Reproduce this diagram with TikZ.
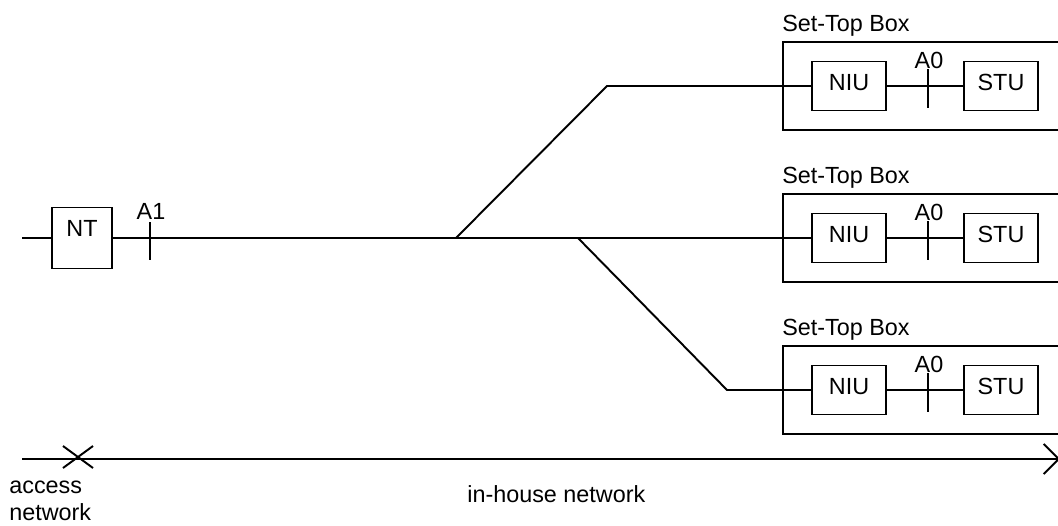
\documentclass[tikz,border=0pt]{standalone}
\usepackage{fontspec}
\setmainfont{Liberation Sans}
\usetikzlibrary{arrows.meta,calc}
\tikzstyle{line} = [draw, line width=1.1pt]
\tikzstyle{block} = [draw, line width=1.1pt, rectangle, text centered, minimum width=1.48cm, minimum height=0.98cm, text height=9.5pt, text depth=4.5pt, inner sep=0pt]
\tikzstyle{stbox} = [draw, line width=1.1pt, rectangle, minimum width=6cm, minimum height=1.76cm, anchor=west]
\tikzstyle{tag} = [inner sep=0pt, anchor=base]

\begin{document}
\begin{tikzpicture}[x=0.02cm, y=-0.02cm, font=\fontsize{13.3}{15.3}\selectfont]
        \clip (0,0) rectangle (1058,525);
        % access side
        \coordinate (in) at (22,238);
        \node[block, text depth=11pt, minimum width=1.2cm, minimum height=1.22cm] (nt) at (82,238) {NT};
        \coordinate (a1top) at (150,222);
        \coordinate (a1bot) at (150,260);
        \node[tag] (a1) at (151,219) {A1};
        % set-top boxes
        \foreach \i/\y in {1/86,2/238,3/390} {
            \node[stbox] (stb\i) at (782,\y) {};
            \node[tag, anchor=base west] (stblabel\i) at (782,\y-55) {Set-Top Box};
            \node[block] (niu\i) at (849,\y) {NIU};
            \node[block] (stu\i) at (1001,\y) {STU};
            \coordinate (a0top\i) at (928,\y-17);
            \coordinate (a0bot\i) at (928,\y+22);
            \node[tag] (a0\i) at (929,\y-18) {A0};
            \path[line] (niu\i) -- (stu\i);
            \path[line] (a0top\i) -- (a0bot\i);
        }
        % in-house wiring
        \coordinate (fork1) at (456,238);
        \coordinate (bend1) at (607,86);
        \coordinate (fork3) at (578,238);
        \coordinate (bend3) at (727,390);
        \path[line] (in) -- (nt);
        \path[line] (a1top) -- (a1bot);
        \path[line] (nt) -- (niu2);
        \path[line] (fork1) -- (bend1) -- (niu1);
        \path[line] (fork3) -- (bend3) -- (niu3);
        % network boundary
        \coordinate (netL) at (22,459);
        \coordinate (netR) at (1060,459);
        \coordinate (cut) at (78,457);
        \path[line, -{Straight Barb[length=0.3cm,width=0.6cm]}] (netL) -- (netR);
        \path[line] ($(cut)+(-15,-11)$) -- ($(cut)+(15,11)$);
        \path[line] ($(cut)+(-15,11)$) -- ($(cut)+(15,-11)$);
        \node[anchor=north west, inner sep=0pt, align=left] (access) at (9,481) {access\\network};
        \node[tag, anchor=base west] (inhouse) at (467,502) {in-house network};
\end{tikzpicture}
\end{document}
